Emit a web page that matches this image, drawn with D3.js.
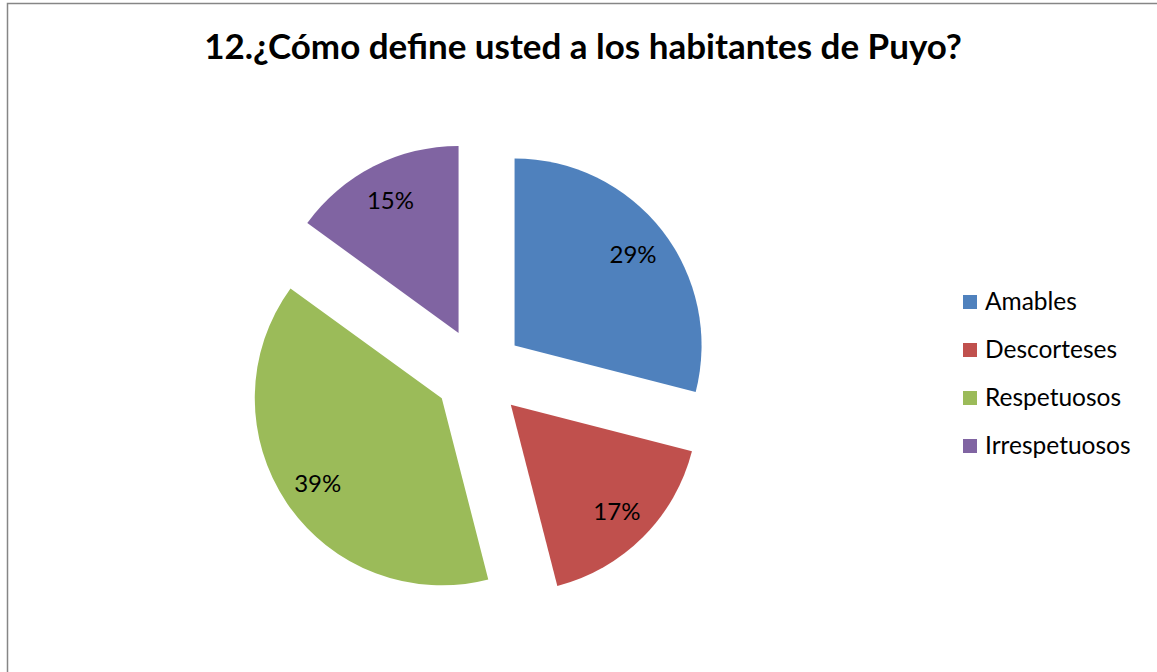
<!DOCTYPE html>
<html>
<head>
<meta charset="utf-8">
<script src="https://cdn.jsdelivr.net/npm/d3@7"></script>
<style>
  html, body { margin: 0; padding: 0; background: #fff; }
  svg { display: block; }
  text { font-family: Lato, "Open Sans", sans-serif; fill: #000; }
</style>
</head>
<body>
<svg id="chart" width="1157" height="672"></svg>
<script>
// Survey answers, in percent
const categories = ["Amables", "Descorteses", "Respetuosos", "Irrespetuosos"];
const values = [29, 17, 39, 15];
const colors = ["#4F81BD", "#C0504D", "#9BBB59", "#8064A2"];
const title = "12.¿Cómo define usted a los habitantes de Puyo?";

const svg = d3.select("#chart");

// Chart area frame
svg.append("rect")
  .attr("x", 7.5).attr("y", 3.5)
  .attr("width", 1160).attr("height", 680)
  .attr("fill", "#fff")
  .attr("stroke", "#868686")
  .attr("stroke-width", 1.5);

// Title, sized to its box width
const t = svg.append("text")
  .attr("x", 583).attr("y", 59)
  .attr("text-anchor", "middle")
  .attr("font-weight", "bold")
  .attr("font-size", 30)
  .text(title);
const tw = t.node().getComputedTextLength();
t.attr("font-size", 30 * 758 / tw);

// Exploded pie
const cx = 479, cy = 373, r = 187, explode = 45, labelDist = 150;
const pie = d3.pie().sort(null).value(d => d)(values);
const arc = d3.arc().innerRadius(0).outerRadius(r);

const g = svg.append("g").attr("transform", `translate(${cx},${cy})`);

const slices = g.selectAll("g.slice")
  .data(pie)
  .enter().append("g")
  .attr("class", "slice")
  .attr("transform", d => {
    const a = (d.startAngle + d.endAngle) / 2;
    return `translate(${explode * Math.sin(a)},${-explode * Math.cos(a)})`;
  });

slices.append("path")
  .attr("d", arc)
  .attr("fill", (d, i) => colors[i]);

slices.append("text")
  .attr("x", d => labelDist * Math.sin((d.startAngle + d.endAngle) / 2))
  .attr("y", d => -labelDist * Math.cos((d.startAngle + d.endAngle) / 2))
  .attr("text-anchor", "middle")
  .attr("dominant-baseline", "central")
  .attr("font-size", 24)
  .text(d => d.value + "%");

// Legend
const legend = svg.append("g").attr("transform", "translate(963,295)");
const rows = legend.selectAll("g")
  .data(categories)
  .enter().append("g")
  .attr("transform", (d, i) => `translate(0,${i * 48})`);

rows.append("rect")
  .attr("width", 14).attr("height", 14)
  .attr("fill", (d, i) => colors[i]);

rows.append("text")
  .attr("x", 22).attr("y", 15)
  .attr("font-size", 24.5)
  .text(d => d);
</script>
</body>
</html>
